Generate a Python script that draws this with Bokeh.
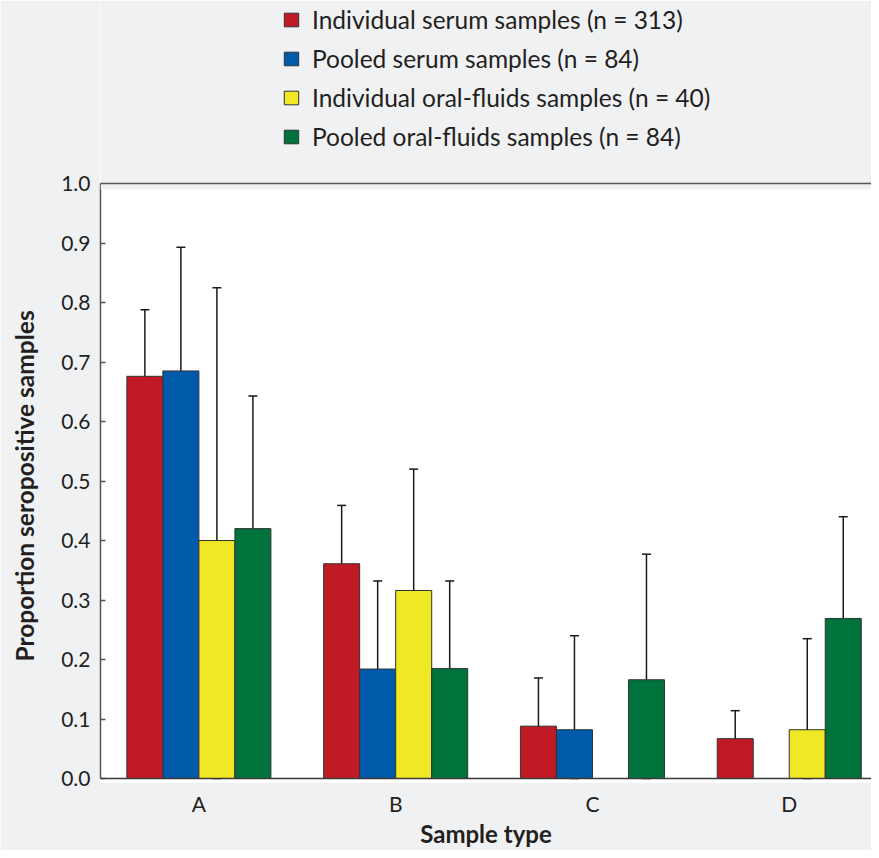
from bokeh.plotting import figure
from bokeh.models import (ColumnDataSource, Whisker, TeeHead, Legend, LegendItem, Title,
                          FixedTicker, NumeralTickFormatter, Range1d, Span, BoxAnnotation)
from bokeh.embed import file_html
from bokeh.resources import INLINE
import math

categories = ["A", "B", "C", "D"]
series_names = ["Individual serum samples (n = 313)",
                "Pooled serum samples (n = 84)",
                "Individual oral-fluids samples (n = 40)",
                "Pooled oral-fluids samples (n = 84)"]
colors = ["#c01a24", "#005aaa", "#f0e824", "#00723c"]

ind_serum = [0.676, 0.361, 0.088, 0.067]
ind_serum_lo = [0.565, 0.264, 0.006, 0.018]
ind_serum_hi = [0.788, 0.459, 0.169, 0.114]

pool_serum = [0.685, 0.184, 0.082, 0.0]
pool_serum_lo = [0.475, 0.038, 0.0, float("nan")]
pool_serum_hi = [0.893, 0.332, 0.240, float("nan")]

ind_oral = [0.400, 0.316, 0.0, 0.082]
ind_oral_lo = [0.0, 0.106, float("nan"), 0.0]
ind_oral_hi = [0.825, 0.520, float("nan"), 0.235]

pool_oral = [0.420, 0.185, 0.166, 0.269]
pool_oral_lo = [0.200, 0.038, 0.0, 0.098]
pool_oral_hi = [0.643, 0.332, 0.377, 0.440]

y_ticks = [0.0, 0.1, 0.2, 0.3, 0.4, 0.5, 0.6, 0.7, 0.8, 0.9, 1.0]

values = [ind_serum, pool_serum, ind_oral, pool_oral]
lows = [ind_serum_lo, pool_serum_lo, ind_oral_lo, pool_oral_lo]
highs = [ind_serum_hi, pool_serum_hi, ind_oral_hi, pool_oral_hi]

FONT = "Lato"
TXT = "#231f20"
BG = "#f0f1f3"
BW = 0.183
offsets = [-1.5 * BW, -0.5 * BW, 0.5 * BW, 1.5 * BW]

p = figure(width=871, height=850, output_backend="svg", toolbar_location=None,
           x_range=Range1d(-0.5, 3.418), y_range=Range1d(-0.0067, 1.3076),
           min_border_left=100, min_border_right=0, min_border_top=0, min_border_bottom=68)
p.border_fill_color = BG
p.background_fill_color = "white"
p.outline_line_color = None
p.grid.visible = False

# grey area above the plotting region (holds the legend)
p.add_layout(BoxAnnotation(bottom=1.0, fill_color=BG, fill_alpha=1, line_color=None))
p.add_layout(BoxAnnotation(bottom=0.99, top=1.0, fill_color=BG, fill_alpha=1, line_color=None))
p.add_layout(Span(location=1.0, dimension="width", line_color="#555555", line_width=1.5))

items = []
for i in range(4):
    xs = [k + offsets[i] for k in range(len(categories))]
    src = ColumnDataSource(dict(x=xs, top=values[i]))
    r = p.vbar(x="x", top="top", bottom=0, width=BW, source=src,
               fill_color=colors[i], line_color="#333333", line_width=1)
    items.append(LegendItem(label=series_names[i], renderers=[r]))
    wx, wl, wh = [], [], []
    for k in range(len(categories)):
        if not math.isnan(lows[i][k]):
            wx.append(xs[k]); wl.append(lows[i][k]); wh.append(highs[i][k])
    wsrc = ColumnDataSource(dict(x=wx, lo=wl, hi=wh))
    p.add_layout(Whisker(source=wsrc, base="x", lower="lo", upper="hi",
                         line_color="#1a1a1a", line_width=1.5,
                         upper_head=TeeHead(size=9, line_color="#1a1a1a", line_width=1.5),
                         lower_head=TeeHead(size=9, line_color="#1a1a1a", line_width=1.5)))

p.add_layout(Span(location=0, dimension="width", line_color="#3a3a3a", line_width=1.5))

# x axis
xa = p.xaxis[0]
xa.ticker = FixedTicker(ticks=list(range(len(categories))))
xa.major_label_overrides = {k: c for k, c in enumerate(categories)}
xa.axis_line_color = None
xa.major_tick_line_color = None
xa.major_tick_in = 0
xa.major_tick_out = 0
xa.minor_tick_line_color = None
xa.major_label_text_font = FONT
xa.major_label_text_font_size = "21px"
xa.major_label_text_color = TXT
xa.major_label_standoff = 8
xa.axis_label = "Sample type"
xa.axis_label_text_font = FONT
xa.axis_label_text_font_style = "bold"
xa.axis_label_text_font_size = "24px"
xa.axis_label_text_color = TXT
xa.axis_label_standoff = 0

# y axis
ya = p.yaxis[0]
ya.ticker = FixedTicker(ticks=y_ticks)
ya.bounds = (0, 1.0)
ya.formatter = NumeralTickFormatter(format="0.0")
ya.axis_line_color = "#555555"
ya.axis_line_width = 1.5
ya.major_tick_line_color = "#555555"
ya.major_tick_line_width = 1.5
ya.major_tick_in = 5
ya.major_tick_out = 0
ya.minor_tick_line_color = None
ya.major_label_text_font = FONT
ya.major_label_text_font_size = "21px"
ya.major_label_text_color = TXT
ya.major_label_standoff = 10

ytitle = Title(text="Proportion seropositive samples\n ", align="left", offset=121,
               vertical_align="top", text_line_height=0.45,
               text_font=FONT, text_font_style="bold", text_font_size="24.5px",
               text_color=TXT, standoff=10)
p.add_layout(ytitle, "left")

legend = Legend(items=items, location=(182, 631),
                glyph_width=18, glyph_height=17, label_standoff=12,
                label_text_font=FONT, label_text_font_size="24.5px",
                label_text_color=TXT, label_height=28, spacing=10,
                padding=0, margin=0,
                background_fill_alpha=0, border_line_alpha=0)
p.add_layout(legend, "center")

open("out.html", "w").write(file_html(p, INLINE))
